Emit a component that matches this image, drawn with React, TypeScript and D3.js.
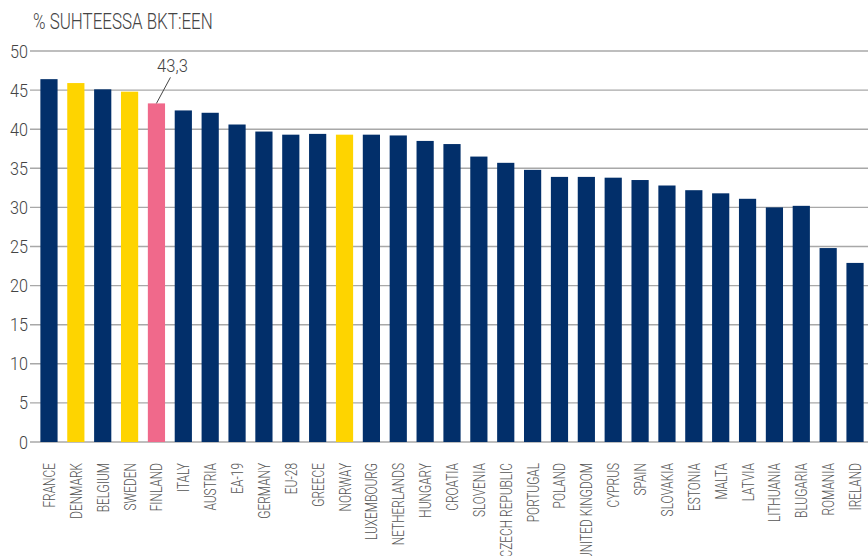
import React from 'react';
import * as d3 from 'd3';

// Tax revenue as % of GDP by country
const categories = [
    'FRANCE', 'DENMARK', 'BELGIUM', 'SWEDEN', 'FINLAND', 'ITALY', 'AUSTRIA', 'EA-19',
    'GERMANY', 'EU-28', 'GREECE', 'NORWAY', 'LUXEMBOURG', 'NETHERLANDS', 'HUNGARY',
    'CROATIA', 'SLOVENIA', 'CZECH REPUBLIC', 'PORTUGAL', 'POLAND', 'UNITED KINGDOM',
    'CYPRUS', 'SPAIN', 'SLOVAKIA', 'ESTONIA', 'MALTA', 'LATVIA', 'LITHUANIA',
    'BLUGARIA', 'ROMANIA', 'IRELAND'
];
const values = [
    46.4, 45.9, 45.1, 44.8, 43.3, 42.4, 42.1, 40.6,
    39.7, 39.3, 39.4, 39.3, 39.3, 39.2, 38.5,
    38.1, 36.5, 35.7, 34.8, 33.9, 33.9,
    33.8, 33.5, 32.8, 32.2, 31.8, 31.1, 30.0,
    30.2, 24.8, 22.9
];
const nordic = ['DENMARK', 'SWEDEN', 'NORWAY'];
const focus = 'FINLAND';
const yTicks = [0, 5, 10, 15, 20, 25, 30, 35, 40, 45, 50];
const title = '% SUHTEESSA BKT:EEN';

const width = 868;
const height = 556;
const font = "Roboto, 'DejaVu Sans', sans-serif";

const colorFor = (c: string) =>
    c === focus ? '#f0698b' : nordic.includes(c) ? '#fed400' : '#022f6a';

export default function App() {
    const x = d3.scaleBand<string>()
        .domain(categories)
        .range([35, 869])
        .paddingInner(0.36)
        .paddingOuter(0.2);

    const y = d3.scaleLinear()
        .domain([0, 50])
        .range([442, 51]);

    const fmt = (v: number) => v.toFixed(1).replace('.', ',');
    const fi = categories.indexOf(focus);
    const fx = (x(focus) ?? 0) + x.bandwidth() / 2;
    const fy = y(values[fi]);

    return (
        <svg width={width} height={height}
            style={{ position: 'absolute', left: 0, top: 0, background: '#fff' }}
            fontFamily={font}>
            {/* title */}
            <text transform="translate(33,29) scale(0.77,1)" fontSize={22} fontWeight={300}
                fill="#444">{title}</text>

            {/* grid + y ticks */}
            {yTicks.map(t => (
                <g key={t}>
                    <line x1={30} x2={width} y1={y(t)} y2={y(t)} stroke="#a8a8a8" strokeWidth={1.4} />
                    <text transform={`translate(28,${y(t) + 6.5}) scale(0.9,1)`} textAnchor="end"
                        fontSize={18} fontWeight={300} fill="#444">{t}</text>
                </g>
            ))}

            {/* bars */}
            {categories.map((c, i) => (
                <rect key={c} x={x(c)} y={y(values[i])} width={x.bandwidth()}
                    height={y(0) - y(values[i])} fill={colorFor(c)} />
            ))}

            {/* category labels */}
            {categories.map(c => (
                <text key={c}
                    transform={`translate(${(x(c) ?? 0) + x.bandwidth() / 2 + 6},463) rotate(-90) scale(0.7,1)`}
                    textAnchor="end" fontSize={17} fontWeight={300} fill="#555">{c}</text>
            ))}

            {/* annotation for Finland */}
            <line x1={fx} y1={fy} x2={fx + 14} y2={fy - 26} stroke="#444" strokeWidth={1} />
            <text transform={`translate(${fx + 16},${fy - 31}) scale(0.92,1)`} textAnchor="middle"
                fontSize={18} fontWeight={300} fill="#444">{fmt(values[fi])}</text>
        </svg>
    );
}
